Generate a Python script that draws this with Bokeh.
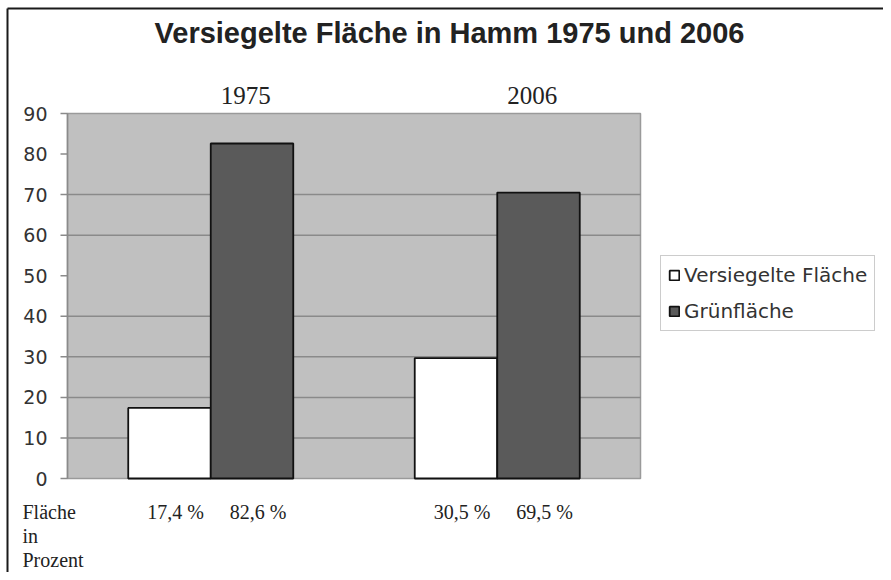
from bokeh.plotting import figure
from bokeh.models import Range1d, Label, Legend, LegendItem, ColumnDataSource
from bokeh.core.properties import value
from bokeh.embed import file_html
from bokeh.resources import INLINE

# ---- data ----
title_text = "Versiegelte Fläche in Hamm 1975 und 2006"
years = ["1975", "2006"]
series = ["Versiegelte Fläche", "Grünfläche"]
versiegelt = [17.4, 29.7]       # bar heights as drawn
gruen = [82.6, 70.5]
pct_versiegelt = ["17,4 %", "30,5 %"]   # printed shares
pct_gruen = ["82,6 %", "69,5 %"]
row_label = ["Fläche", "in", "Prozent"]
y_ticks = [0, 10, 20, 30, 40, 50, 60, 70, 80, 90]
grid_ticks = [10, 20, 30, 40, 60, 70]
y_max = 90

# ---- layout (canvas pixels) ----
W, H = 883, 572
PL, PT, PW, PH = 67, 113, 573, 365      # plot area left/top/width/height
n = len(years)
px_x = PW / n            # px per x unit
px_y = PH / y_max        # px per y unit
x_range = Range1d(-PL / px_x, (W - PL) / px_x)
y_range = Range1d(-(H - PT - PH) / px_y, (PT + PH) / px_y)


def dx(px):
    return (px - PL) / px_x


def dy(py):
    return (PT + PH - py) / px_y


p = figure(width=W, height=H, x_range=x_range, y_range=y_range,
           output_backend="svg", toolbar_location=None,
           x_axis_location=None, y_axis_location=None,
           min_border=0)
p.background_fill_color = "white"
p.border_fill_color = "white"
p.outline_line_color = None
p.xgrid.visible = False
p.ygrid.visible = False

# outer border of the chart (top and left edges; others lie outside the view)
p.segment(x0=[dx(7), dx(7)], x1=[dx(W + 20), dx(7)],
          y0=[dy(8), dy(8)], y1=[dy(8), dy(H + 20)],
          line_color="#1a1a1a", line_width=2)

# plot area
p.quad(left=[0], right=[n], bottom=[0], top=[y_max],
       fill_color="#c0c0c0", line_color="#9a9a9a", line_width=1.5)

# gridlines
p.segment(x0=[0] * len(grid_ticks), x1=[n] * len(grid_ticks),
          y0=grid_ticks, y1=grid_ticks, line_color="#8a8a8a", line_width=1.5)

# y axis line, ticks and labels
p.segment(x0=[0], x1=[0], y0=[0], y1=[y_max], line_color="#8a8a8a", line_width=1.5)
tick_len = 7 / px_x
p.segment(x0=[-tick_len] * len(y_ticks), x1=[0] * len(y_ticks),
          y0=y_ticks, y1=y_ticks, line_color="#8a8a8a", line_width=1.5)
p.text(x=[0] * len(y_ticks), y=y_ticks, text=[str(t) for t in y_ticks],
       x_offset=-20, text_align="right", text_baseline="middle",
       text_font=value("DejaVu Sans"), text_font_size="19px", text_color="#333333")

# bars
bw = 0.288
centers = [i + 0.5 for i in range(n)]
src = ColumnDataSource(dict(
    xv=[c - bw / 2 for c in centers],
    xg=[c + bw / 2 for c in centers],
    v=versiegelt, g=gruen))
r1 = p.vbar(x="xv", top="v", width=bw, bottom=0, source=src,
            fill_color="white", line_color="#111111", line_width=1.8)
r2 = p.vbar(x="xg", top="g", width=bw, bottom=0, source=src,
            fill_color="#5a5a5a", line_color="#111111", line_width=1.8)

# legend (location = bottom-left corner, px from canvas bottom-left)
legend = Legend(items=[LegendItem(label=series[0], renderers=[r1]),
                       LegendItem(label=series[1], renderers=[r2])],
                location=(660, H - 331), orientation="vertical")
legend.border_line_color = "#9a9a9a"
legend.border_line_width = 1
legend.background_fill_color = "white"
legend.padding = 7
legend.spacing = 12
legend.margin = 0
legend.glyph_width = 12
legend.glyph_height = 12
legend.label_standoff = 4
legend.label_height = 20
legend.label_text_font = "DejaVu Sans"
legend.label_text_font_size = "20px"
legend.label_text_color = "#333333"
p.add_layout(legend)

# title
p.add_layout(Label(x=449, y=H - 48, x_units="screen", y_units="screen",
                   text=title_text, text_align="center",
                   text_font="Liberation Sans", text_font_style="bold",
                   text_font_size="29px", text_color="#222222"))

# year labels above the bars
for c, yr in zip(centers, years):
    p.add_layout(Label(x=c, y=H - 103, x_units="data", y_units="screen",
                       x_offset=35, text=yr, text_align="center",
                       text_font="Liberation Serif", text_font_size="25px",
                       text_color="#222222"))

# percentage row below the chart
for xs, labs in ((src.data["xv"], pct_versiegelt), (src.data["xg"], pct_gruen)):
    for x, t in zip(xs, labs):
        p.add_layout(Label(x=x, y=H - 522, x_units="data", y_units="screen",
                           x_offset=6, text=t, text_align="center",
                           text_font="Liberation Serif", text_font_size="20px",
                           text_color="#222222"))

for i, t in enumerate(row_label):
    p.add_layout(Label(x=22, y=H - 522 - 24 * i, x_units="screen", y_units="screen",
                       text=t, text_align="left",
                       text_font="Liberation Serif", text_font_size="20px",
                       text_color="#222222"))

open("out.html", "w").write(file_html(p, INLINE))
